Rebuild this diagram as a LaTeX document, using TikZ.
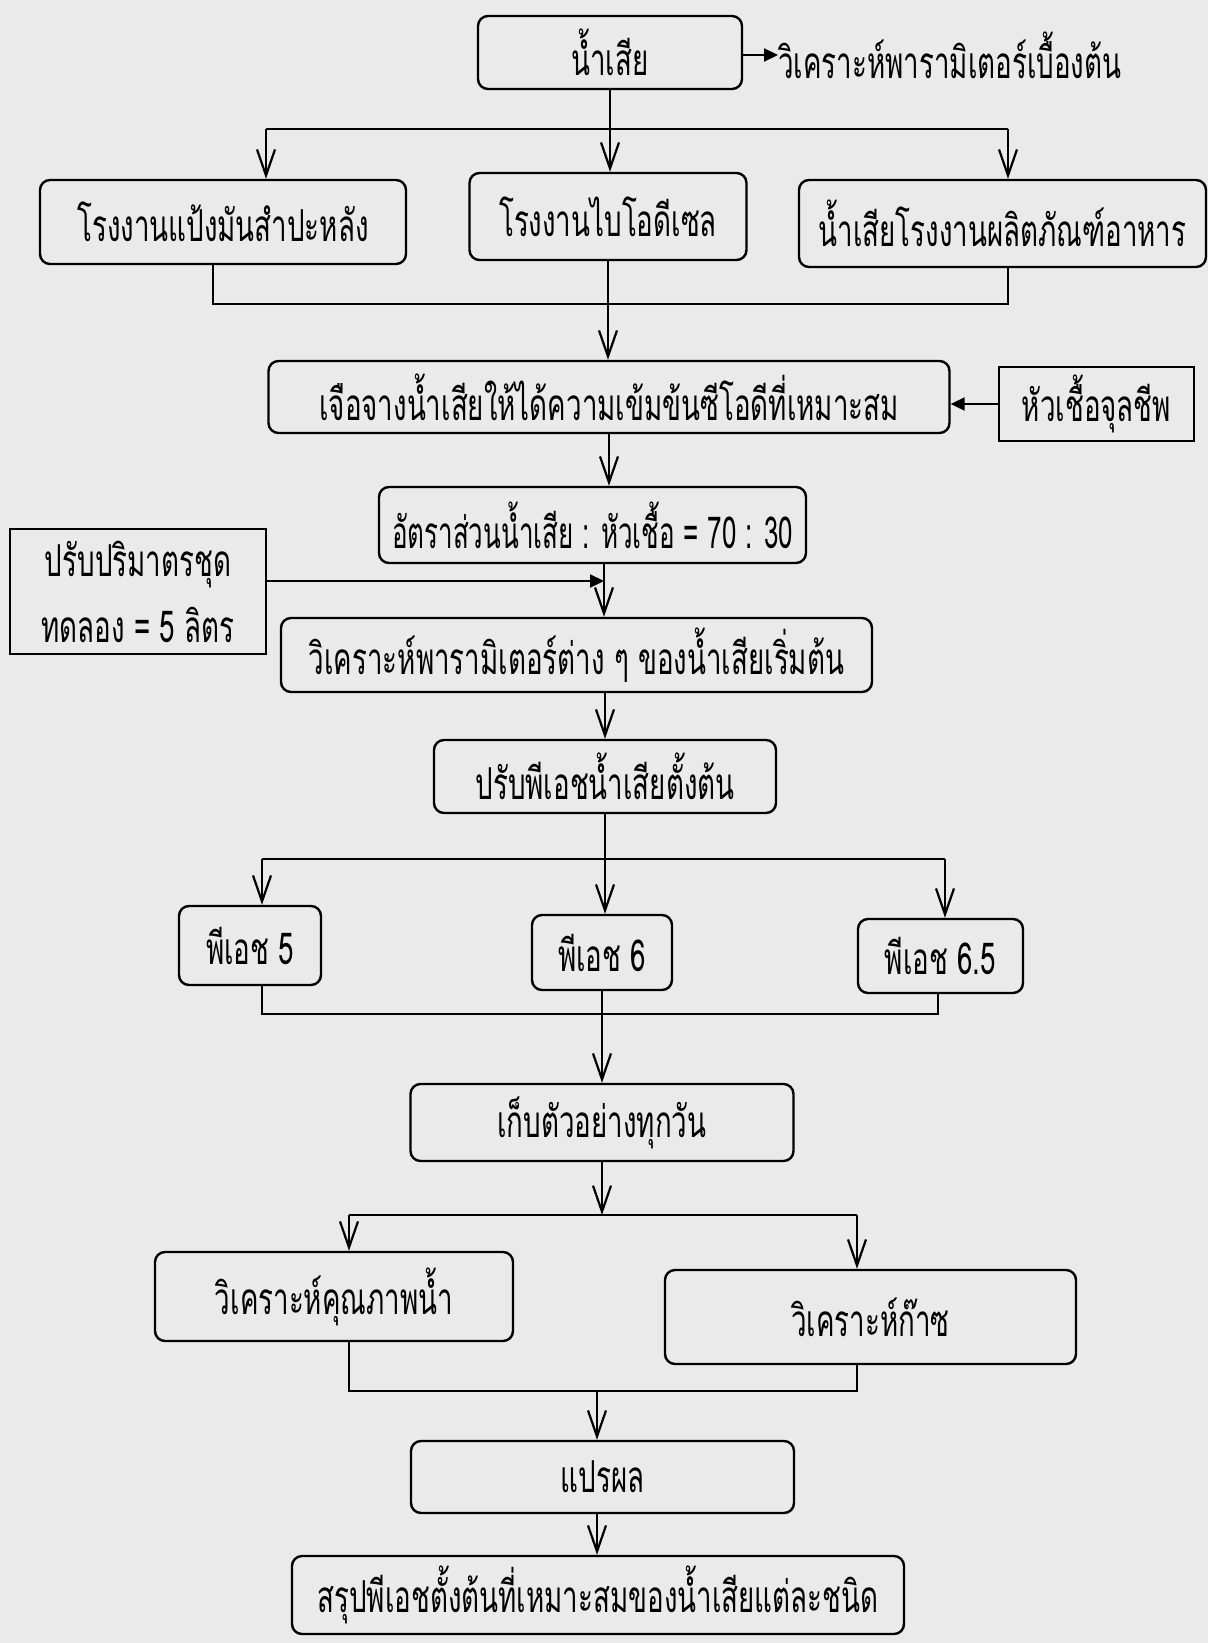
\documentclass[tikz,border=0pt]{standalone}
\usepackage{fontspec}
\newfontfamily\thai[Script=Thai,FakeStretch=0.63]{Loma}
\newfontfamily\thainarrow[Script=Thai,FakeStretch=0.59]{Loma}
\usetikzlibrary{arrows.meta}
\definecolor{paper}{RGB}{234,234,234}
\begin{document}
\begin{tikzpicture}[x=1pt,y=-1pt,
  box/.style={draw, line width=2.4pt, rounded corners=10pt, align=center, inner sep=0pt,
    font=\thai\fontsize{44}{50}\selectfont},
  sbox/.style={box, sharp corners},
  ln/.style={line width=2.2pt},
  va/.style={line width=2.2pt, -{Straight Barb[length=26pt,width=18pt]}},
  fa/.style={line width=2.2pt, -{Triangle[length=14pt,width=13pt]}}]
\useasboundingbox[fill=paper] (0,0) rectangle (1208,1643);
% nodes
\node[box, minimum width=264pt, minimum height=73pt] (n0) at (610,52.5) {น้ำเสีย};
\node[anchor=west, inner sep=0pt, font=\thai\fontsize{44}{50}\selectfont] (t0) at (778,55) {วิเคราะห์พารามิเตอร์เบื้องต้น};
\node[box, minimum width=366pt, minimum height=84pt] (b1) at (223,222) {โรงงานแป้งมันสำปะหลัง};
\node[box, minimum width=277pt, minimum height=87pt] (b2) at (608,216.5) {โรงงานไบโอดีเซล};
\node[box, minimum width=407pt, minimum height=87pt] (b3) at (1002.5,223.5) {น้ำเสียโรงงานผลิตภัณฑ์อาหาร};
\node[box, minimum width=681pt, minimum height=72pt] (b4) at (609,397) {เจือจางน้ำเสียให้ได้ความเข้มข้นซีโอดีที่เหมาะสม};
\node[sbox, minimum width=195pt, minimum height=74pt] (b4r) at (1096.5,404) {หัวเชื้อจุลชีพ};
\node[box, minimum width=427pt, minimum height=76pt, font=\thainarrow\fontsize{44}{50}\selectfont] (b5) at (592.5,525) {อัตราส่วนน้ำเสีย : หัวเชื้อ = 70 : 30};
\node[sbox, minimum width=256pt, minimum height=125pt, font=\thai\fontsize{44}{66}\selectfont] (bl) at (138,591.5) {ปรับปริมาตรชุด\\ทดลอง = 5 ลิตร};
\node[box, minimum width=591pt, minimum height=74pt] (b6) at (576.5,655) {วิเคราะห์พารามิเตอร์ต่าง ๆ ของน้ำเสียเริ่มต้น};
\node[box, minimum width=342pt, minimum height=73pt] (b7) at (605,776.5) {ปรับพีเอชน้ำเสียตั้งต้น};
\node[box, minimum width=142pt, minimum height=79pt] (p5) at (250,945.5) {พีเอช 5};
\node[box, minimum width=140pt, minimum height=75pt] (p6) at (602,952.5) {พีเอช 6};
\node[box, minimum width=165pt, minimum height=74pt] (p65) at (940.5,956) {พีเอช 6.5};
\node[box, minimum width=383pt, minimum height=77pt] (b8) at (602,1122.5) {เก็บตัวอย่างทุกวัน};
\node[box, minimum width=358pt, minimum height=89pt] (bq) at (334,1296.5) {วิเคราะห์คุณภาพน้ำ};
\node[box, minimum width=411pt, minimum height=94pt] (bg) at (870.5,1317) {วิเคราะห์ก๊าซ};
\node[box, minimum width=383pt, minimum height=72pt] (b9) at (602.5,1477) {แปรผล};
\node[box, minimum width=612pt, minimum height=78pt] (b10) at (598,1595) {สรุปพีเอชตั้งต้นที่เหมาะสมของน้ำเสียแต่ละชนิด};
% junction coordinates
\coordinate (s1l) at (266,129); \coordinate (s1r) at (1008,129);
\coordinate (m1l) at (213,304); \coordinate (m1r) at (1008,304);
\coordinate (jb) at (604,581);
\coordinate (s2l) at (262,859); \coordinate (s2r) at (945,859);
\coordinate (m2l) at (262,1014); \coordinate (m2r) at (938,1014);
\coordinate (s3l) at (349,1215); \coordinate (s3r) at (857,1215);
\coordinate (m3l) at (349,1391); \coordinate (m3r) at (857,1391); \coordinate (m3c) at (597,1391);
% connectors
\draw[fa] (n0.east |- t0.west) -- (t0.west);
\draw[ln] (s1l) -- (s1r);
\draw[va] (n0.south) -- (n0.south |- b2.north);
\draw[va] (s1l) -- (s1l |- b1.north);
\draw[va] (s1r) -- (s1r |- b3.north);
\draw[ln] (m1l |- b1.south) -- (m1l) -- (m1r) -- (m1r |- b3.south);
\draw[va] (b2.south) -- (b2.south |- b4.north);
\draw[fa] (b4r.west) -- (b4r.west -| b4.east);
\draw[va] (b4.south) -- (b4.south |- b5.north);
\draw[va] (b5.south -| jb) -- (b6.north -| jb);
\draw[fa] (bl.east |- jb) -- (jb);
\draw[va] (b6.south -| b7.north) -- (b7.north);
\draw[va] (b7.south) -- (b7.south |- p6.north);
\draw[ln] (s2l) -- (s2r);
\draw[va] (s2l) -- (s2l |- p5.north);
\draw[va] (s2r) -- (s2r |- p65.north);
\draw[ln] (m2l |- p5.south) -- (m2l) -- (m2r) -- (m2r |- p65.south);
\draw[va] (p6.south) -- (p6.south |- b8.north);
\draw[va] (b8.south) -- (b8.south |- s3l);
\draw[ln] (s3l) -- (s3r);
\draw[va] (s3l) -- (s3l |- bq.north);
\draw[va] (s3r) -- (s3r |- bg.north);
\draw[ln] (m3l |- bq.south) -- (m3l) -- (m3r) -- (m3r |- bg.south);
\draw[va] (m3c) -- (m3c |- b9.north);
\draw[va] (b9.south -| m3c) -- (m3c |- b10.north);
\end{tikzpicture}
\end{document}
